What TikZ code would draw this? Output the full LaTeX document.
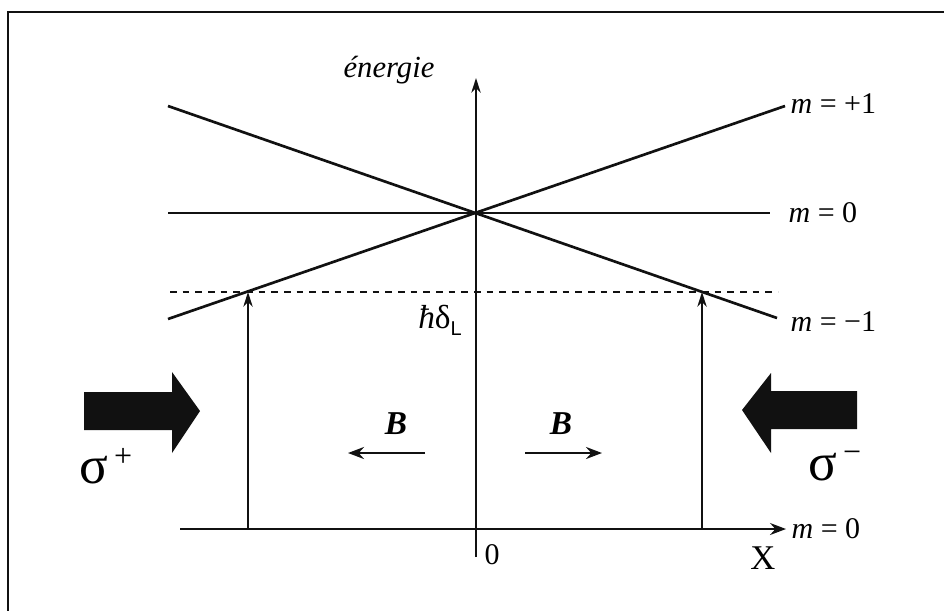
\documentclass[tikz,border=0pt]{standalone}
\usepackage{fontspec}
\setmainfont{Liberation Serif}
\setsansfont{Liberation Sans}
\usepackage{tikz}
\usetikzlibrary{arrows.meta,calc,positioning}
\usepackage{xcolor}
\definecolor{ink}{HTML}{111111}

\tikzset{
  level/.style={line width=2pt,ink},
  axis/.style={line width=1.3pt,ink},
  lbl/.style={font=\fontsize{22.5}{25}\selectfont,inner sep=1pt},
  bigarrow/.style={fill=ink,draw=none},
}

\begin{document}
\begin{tikzpicture}[>={Stealth[length=12pt,width=9pt,inset=4pt]},x=0.75pt,y=-0.75pt]
  \useasboundingbox (0,0) rectangle (944,611);
  % frame
  \draw[line width=1.5pt,ink] (944,12) -- (8,12) -- (8,611);
  % axes
  \coordinate (C) at (476,213);
  \coordinate (Ob) at (476,557); \coordinate (Ot) at (476,78);
  \coordinate (Xl) at (180,529); \coordinate (Xr) at (786,529);
  \draw[axis,->,>={Stealth[length=11pt,width=7pt,inset=3.5pt]}] (Ob) -- (Ot);
  \draw[axis,->] (Xl) -- (Xr);
  \node[lbl,font=\fontsize{23}{26}\selectfont\itshape] (en) at (389,70) {énergie};
  \node[lbl,right=3pt of Xr] (m0b) {\textit{m} = 0};
  \node[lbl] (zero) at (492,555) {0};
  \node[lbl,font=\fontsize{26}{28}\selectfont] (X) at (763,558) {X};
  % Zeeman levels
  \coordinate (Ul) at (168,319); \coordinate (Ur) at (785,106);
  \coordinate (Dl) at (168,106); \coordinate (Dr) at (777,318);
  \coordinate (Zl) at (168,213); \coordinate (Zr) at (770,213);
  \draw[level] (Ul) -- (Ur);
  \draw[level] (Dl) -- (Dr);
  \draw[level] (Zl) -- (Zr);
  \node[lbl,anchor=west] (mp) at (789,104) {\textit{m} = +1};
  \node[lbl,anchor=west] (mz) at (787,213) {\textit{m} = 0};
  \node[lbl,anchor=west] (mm) at (789,322) {\textit{m} = −1};
  % laser detuning
  \coordinate (Ll) at (170,292); \coordinate (Lr) at (778,292);
  \draw[line width=1.3pt,ink,dash pattern=on 5pt off 4.5pt] (Ll) -- (Lr);
  \node[lbl,font=\fontsize{25}{27}\selectfont] (hd) at (440,320) {\textit{ħ}δ\raisebox{-0.45ex}{\fontsize{15}{15}\selectfont\sffamily L}};
  \coordinate (A1) at (248,529); \coordinate (A1t) at (248,292);
  \coordinate (A2) at (702,529); \coordinate (A2t) at (702,292);
  \draw[axis,->,>={Stealth[length=11pt,width=7pt,inset=3.5pt]}] (A1) -- (A1t);
  \draw[axis,->,>={Stealth[length=11pt,width=7pt,inset=3.5pt]}] (A2) -- (A2t);
  % field
  \coordinate (B1s) at (425,453); \coordinate (B1e) at (348,453);
  \coordinate (B2s) at (525,453); \coordinate (B2e) at (602,453);
  \draw[line width=1.9pt,ink,->] (B1s) -- (B1e);
  \draw[line width=1.9pt,ink,->] (B2s) -- (B2e);
  \node[lbl,font=\fontsize{25}{27}\selectfont\bfseries\itshape] (B1) at (396,424) {B};
  \node[lbl,font=\fontsize{25}{27}\selectfont\bfseries\itshape] (B2) at (561,424) {B};
  % laser beams
  \fill[bigarrow] (84,392) -- (172,392) -- (172,372) -- (200,411) -- (172,453) -- (172,430) -- (84,430) -- cycle;
  \fill[bigarrow] (857,391) -- (771,391) -- (771,373) -- (742,410) -- (771,453) -- (771,429) -- (857,429) -- cycle;
  \node[lbl,font=\fontsize{40}{44}\selectfont] (sp) at (106,466) {σ\raisebox{0.7ex}{\fontsize{24}{24}\selectfont\,+}};
  \node[lbl,font=\fontsize{40}{44}\selectfont] (sm) at (835,466) {σ\raisebox{0.7ex}{\fontsize{24}{24}\selectfont\,−}};
\end{tikzpicture}
\end{document}
